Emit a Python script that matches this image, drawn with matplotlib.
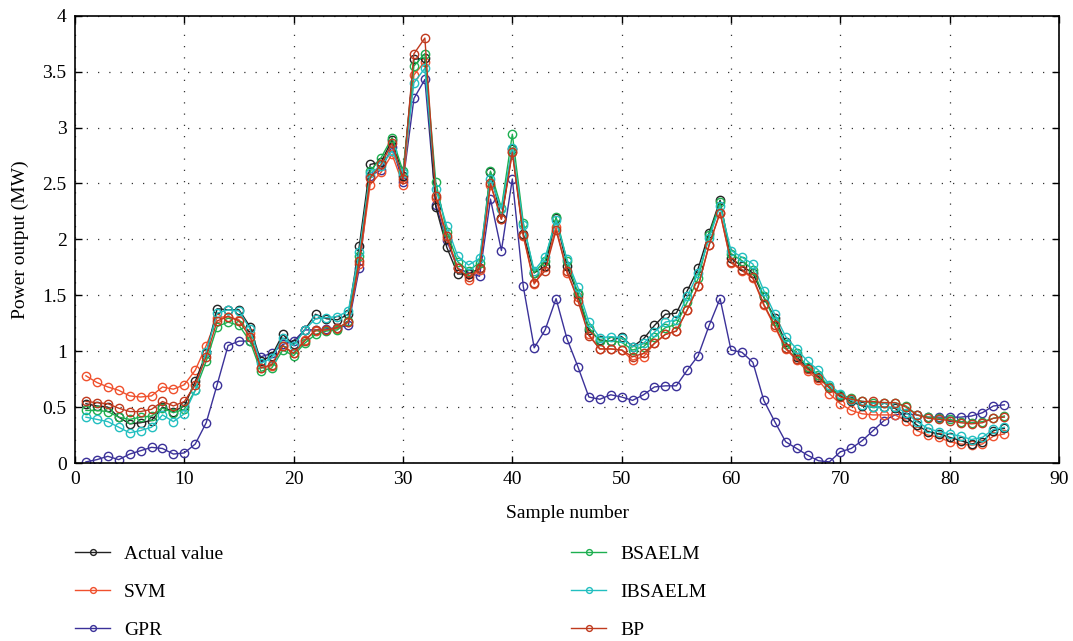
import matplotlib
matplotlib.use("Agg")
import matplotlib.pyplot as plt
import numpy as np

sample = list(range(1, 86))

actual = [0.53, 0.51, 0.50, 0.41, 0.35, 0.36, 0.38, 0.50, 0.46, 0.51,
          0.73, 0.98, 1.38, 1.37, 1.37, 1.22, 0.91, 0.96, 1.15, 1.06,
          1.19, 1.33, 1.29, 1.28, 1.33, 1.94, 2.67, 2.69, 2.89, 2.57,
          3.61, 3.62, 2.29, 1.93, 1.69, 1.69, 1.74, 2.60, 2.19, 2.81,
          2.05, 1.70, 1.76, 2.19, 1.76, 1.51, 1.19, 1.10, 1.09, 1.13,
          1.04, 1.11, 1.23, 1.33, 1.34, 1.54, 1.74, 2.06, 2.35, 1.83,
          1.76, 1.70, 1.48, 1.30, 1.08, 0.95, 0.85, 0.77, 0.68, 0.60,
          0.55, 0.51, 0.50, 0.50, 0.49, 0.41, 0.34, 0.28, 0.26, 0.23,
          0.20, 0.17, 0.19, 0.29, 0.31]

svm = [0.78, 0.72, 0.68, 0.65, 0.60, 0.59, 0.60, 0.68, 0.66, 0.70,
       0.83, 1.05, 1.30, 1.31, 1.28, 1.16, 0.85, 0.87, 1.05, 0.98,
       1.10, 1.18, 1.19, 1.20, 1.26, 1.78, 2.49, 2.60, 2.76, 2.49,
       3.47, 3.59, 2.37, 2.01, 1.74, 1.64, 1.73, 2.49, 2.18, 2.78,
       2.03, 1.60, 1.75, 2.11, 1.70, 1.48, 1.15, 1.02, 1.02, 1.01,
       0.92, 0.95, 1.07, 1.15, 1.18, 1.37, 1.58, 1.95, 2.24, 1.79,
       1.72, 1.65, 1.41, 1.22, 1.02, 0.92, 0.82, 0.74, 0.62, 0.53,
       0.47, 0.44, 0.43, 0.43, 0.43, 0.38, 0.29, 0.25, 0.23, 0.19,
       0.17, 0.16, 0.17, 0.24, 0.26]

gpr = [0.01, 0.03, 0.06, 0.03, 0.08, 0.11, 0.14, 0.13, 0.08, 0.09,
       0.17, 0.36, 0.70, 1.05, 1.09, 1.09, 0.95, 0.98, 1.06, 1.09,
       1.19, 1.19, 1.20, 1.21, 1.23, 1.74, 2.57, 2.62, 2.83, 2.51,
       3.26, 3.43, 2.31, 1.99, 1.74, 1.70, 1.67, 2.36, 1.90, 2.54,
       1.58, 1.03, 1.19, 1.47, 1.11, 0.86, 0.59, 0.57, 0.61, 0.59,
       0.56, 0.61, 0.68, 0.69, 0.69, 0.83, 0.96, 1.23, 1.47, 1.01,
       0.99, 0.90, 0.56, 0.37, 0.19, 0.13, 0.07, 0.02, 0.01, 0.10,
       0.13, 0.20, 0.29, 0.38, 0.43, 0.44, 0.43, 0.41, 0.41, 0.41,
       0.41, 0.42, 0.45, 0.51, 0.52]

bsaelm = [0.47, 0.47, 0.46, 0.41, 0.39, 0.41, 0.42, 0.49, 0.45, 0.48,
          0.65, 0.91, 1.22, 1.26, 1.23, 1.09, 0.82, 0.85, 1.01, 0.96,
          1.07, 1.15, 1.18, 1.19, 1.27, 1.85, 2.61, 2.73, 2.91, 2.61,
          3.55, 3.66, 2.51, 2.07, 1.80, 1.72, 1.79, 2.61, 2.28, 2.94,
          2.15, 1.70, 1.81, 2.20, 1.81, 1.52, 1.21, 1.09, 1.09, 1.08,
          1.01, 1.04, 1.13, 1.21, 1.24, 1.44, 1.65, 2.04, 2.33, 1.87,
          1.81, 1.73, 1.49, 1.27, 1.06, 0.98, 0.86, 0.79, 0.68, 0.61,
          0.58, 0.55, 0.54, 0.54, 0.54, 0.51, 0.43, 0.41, 0.40, 0.39,
          0.37, 0.36, 0.37, 0.40, 0.42]

ibsaelm = [0.41, 0.39, 0.37, 0.32, 0.27, 0.29, 0.32, 0.43, 0.37, 0.44,
           0.65, 0.99, 1.34, 1.37, 1.36, 1.20, 0.89, 0.94, 1.12, 1.05,
           1.19, 1.29, 1.30, 1.31, 1.36, 1.89, 2.59, 2.66, 2.79, 2.59,
           3.40, 3.53, 2.45, 2.12, 1.85, 1.77, 1.83, 2.54, 2.27, 2.82,
           2.13, 1.72, 1.84, 2.17, 1.82, 1.57, 1.26, 1.12, 1.13, 1.12,
           1.04, 1.07, 1.17, 1.26, 1.28, 1.49, 1.70, 2.01, 2.30, 1.90,
           1.84, 1.78, 1.54, 1.33, 1.13, 1.02, 0.91, 0.83, 0.70, 0.62,
           0.56, 0.52, 0.50, 0.50, 0.50, 0.45, 0.37, 0.31, 0.28, 0.26,
           0.24, 0.21, 0.23, 0.30, 0.32]

bp = [0.55, 0.54, 0.53, 0.49, 0.46, 0.46, 0.48, 0.55, 0.51, 0.55,
      0.70, 0.95, 1.27, 1.31, 1.27, 1.13, 0.85, 0.88, 1.05, 0.98,
      1.09, 1.19, 1.19, 1.21, 1.26, 1.81, 2.55, 2.67, 2.86, 2.54,
      3.66, 3.80, 2.39, 2.03, 1.74, 1.66, 1.74, 2.50, 2.18, 2.78,
      2.04, 1.61, 1.72, 2.08, 1.72, 1.45, 1.14, 1.02, 1.02, 1.01,
      0.95, 0.98, 1.07, 1.15, 1.18, 1.37, 1.58, 1.95, 2.24, 1.80,
      1.73, 1.66, 1.42, 1.23, 1.03, 0.93, 0.84, 0.76, 0.67, 0.59,
      0.57, 0.55, 0.55, 0.54, 0.54, 0.50, 0.43, 0.40, 0.39, 0.38,
      0.36, 0.35, 0.36, 0.40, 0.41]

labels = ["Actual value", "SVM", "GPR", "BSAELM", "IBSAELM", "BP"]
colors = ["#222222", "#F0502D", "#3B3199", "#1DAF50", "#22BFC0", "#C03A1E"]
series = [actual, svm, gpr, bsaelm, ibsaelm, bp]

plt.rcParams['font.family'] = ['Liberation Serif', 'DejaVu Serif']

fig = plt.figure(figsize=(10.73, 6.41), dpi=100)
ax = fig.add_axes([75/1073, 1 - 463/641, (1059-75)/1073, (463-15.7)/641])

draw_order = [2, 1, 0, 3, 4, 5]
handles = {}
for i in draw_order:
    h, = ax.plot(sample, series[i], color=colors[i], marker='o', markersize=6,
                 markerfacecolor='none', markeredgewidth=1.0, linewidth=1.0,
                 label=labels[i])
    handles[i] = h

ax.set_xlim(0, 90)
ax.set_ylim(0, 4)
ax.set_xticks(range(0, 91, 10))
ax.set_yticks([0, 0.5, 1, 1.5, 2, 2.5, 3, 3.5, 4])
ax.set_yticklabels(["0", "0.5", "1", "1.5", "2", "2.5", "3", "3.5", "4"])
ax.grid(True, color='#333333', linestyle=(0, (1, 8)), linewidth=0.9)
ax.tick_params(direction='in', length=5, top=True, right=True, labelsize=14,
               width=1.0, pad=6)
for s in ax.spines.values():
    s.set_linewidth(1.2)
ax.set_xlabel("Sample number", fontsize=14, labelpad=12)
ax.set_ylabel("Power output (MW)", fontsize=14, labelpad=10)

common = dict(frameon=False, fontsize=14, handlelength=1.8, handletextpad=0.72,
              labelspacing=1.05, borderpad=0, borderaxespad=0, loc='upper left',
              markerscale=0.7)
fig.legend([handles[0], handles[1], handles[2]], labels[:3],
           bbox_to_anchor=(75/1073, 1 - 545/641), **common)
fig.legend([handles[3], handles[4], handles[5]], labels[3:],
           bbox_to_anchor=(571/1073, 1 - 545/641), **common)

fig.savefig("out.png", dpi=100)
